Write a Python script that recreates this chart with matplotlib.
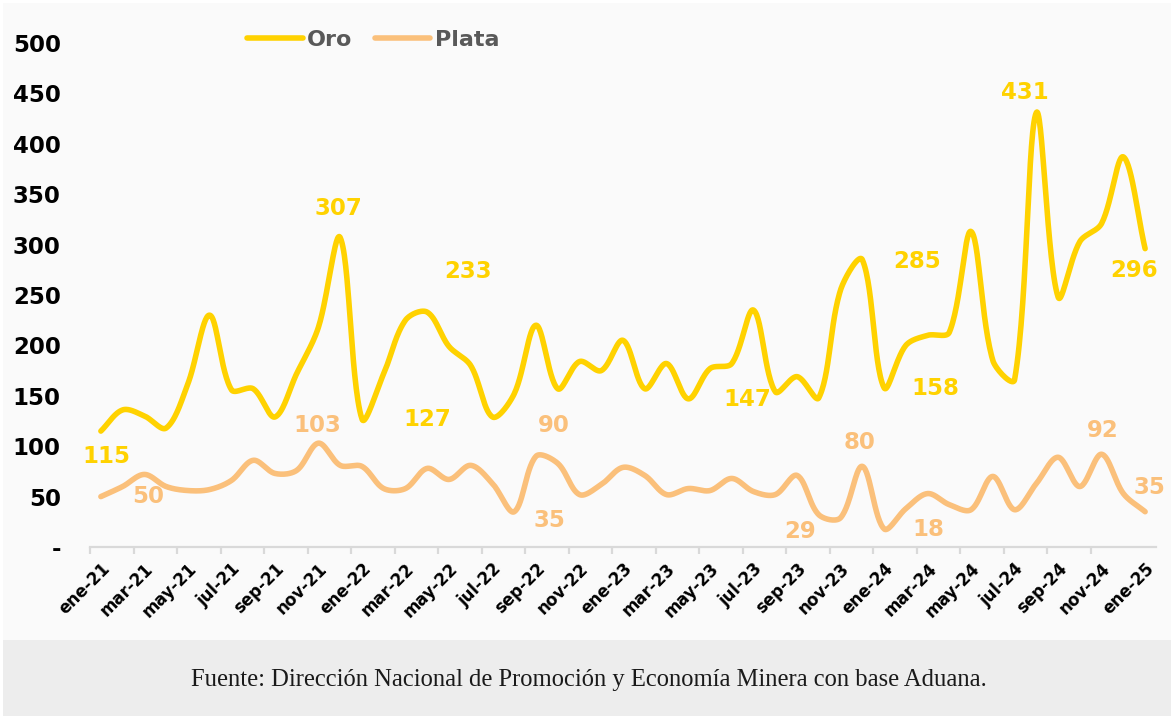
import numpy as np
import matplotlib
matplotlib.use("Agg")
import matplotlib.pyplot as plt
from matplotlib.patches import Rectangle
from matplotlib.lines import Line2D
from matplotlib.ticker import FixedLocator, FuncFormatter

# ---------------- data ----------------
months = ["ene-21", "feb-21", "mar-21", "abr-21", "may-21", "jun-21", "jul-21", "ago-21",
          "sep-21", "oct-21", "nov-21", "dic-21",
          "ene-22", "feb-22", "mar-22", "abr-22", "may-22", "jun-22", "jul-22", "ago-22",
          "sep-22", "oct-22", "nov-22", "dic-22",
          "ene-23", "feb-23", "mar-23", "abr-23", "may-23", "jun-23", "jul-23", "ago-23",
          "sep-23", "oct-23", "nov-23", "dic-23",
          "ene-24", "feb-24", "mar-24", "abr-24", "may-24", "jun-24", "jul-24", "ago-24",
          "sep-24", "oct-24", "nov-24", "dic-24",
          "ene-25"]

oro = [115, 136, 130, 118, 162, 230, 156, 157, 129, 172, 218, 307,
       127, 172, 225, 233, 199, 180, 129, 152, 220, 157, 184, 175,
       205, 157, 182, 147, 177, 182, 235, 154, 169, 148, 255, 285,
       158, 200, 210, 213, 313, 185, 166, 431, 248, 303, 321, 387,
       296]

plata = [50, 60, 72, 60, 56, 57, 66, 86, 73, 76, 103, 81,
         80, 58, 58, 78, 67, 81, 63, 35, 90, 83, 52, 62,
         79, 71, 52, 58, 56, 68, 55, 52, 71, 32, 29, 80,
         18, 38, 53, 42, 37, 70, 37, 63, 89, 60, 92, 53,
         35]

# which points carry a value label
oro_label_idx = [0, 11, 12, 15, 27, 35, 36, 43, 48]
plata_label_idx = [0, 10, 20, 19, 34, 35, 36, 46, 48]

# label placement (pixel offsets from the labelled point)
oro_label_off = [(5, -25), (-2, 29), (65, -1), (41, 41), (59, -1),
                 (55, -2), (51, -1), (-11, 20), (-11, -22)]
plata_label_off = [(47, 0), (-1, 18), (18, 31), (35, -9), (-40, -14),
                   (-3, 24), (44, -1), (1, 24), (4, 24)]

series_names = ["Oro", "Plata"]
yticks = [0, 50, 100, 150, 200, 250, 300, 350, 400, 450, 500]

C_ORO = "#FFD200"
C_PLATA = "#FAC07B"
FOOT = "Fuente: Dirección Nacional de Promoción y Economía Minera con base Aduana."


def excel_smooth(ax, vals, n=30):
    """Excel-like smoothed Bezier curve through the points (computed in screen space)."""
    y = np.asarray(vals, float)
    x = np.arange(len(y), dtype=float)
    P = ax.transData.transform(np.column_stack([x, y]))
    Pe = np.vstack([P[0], P, P[-1]])
    t = np.linspace(0, 1, n, endpoint=False)[:, None]
    out = []
    for i in range(len(P) - 1):
        p0, p1, p2, p3 = Pe[i], Pe[i + 1], Pe[i + 2], Pe[i + 3]
        d01 = np.hypot(*(p1 - p0))
        d12 = np.hypot(*(p2 - p1))
        d23 = np.hypot(*(p3 - p2))
        f1 = d12 / (3.0 * (d01 + d12)) if (d01 + d12) > 0 else 0.0
        f2 = d12 / (3.0 * (d12 + d23)) if (d12 + d23) > 0 else 0.0
        b1 = p1 + (p2 - p0) * f1
        b2 = p2 - (p3 - p1) * f2
        seg = ((1 - t) ** 3) * p1 + 3 * ((1 - t) ** 2) * t * b1 + 3 * (1 - t) * t ** 2 * b2 + t ** 3 * p2
        out.append(seg)
    out.append(P[-1][None, :])
    out = np.vstack(out)
    d = ax.transData.inverted().transform(out)
    return d[:, 0], d[:, 1]


W, H = 1171, 716
fig = plt.figure(figsize=(W / 100, H / 100), dpi=100)
fig.patch.set_facecolor("white")

# backgrounds
fig.patches.append(Rectangle((3 / W, 76 / H), (W - 3) / W, (H - 76 - 3) / H,
                             transform=fig.transFigure, facecolor="#FAFAFA",
                             edgecolor="none", zorder=-10))
fig.patches.append(Rectangle((3 / W, 0), (W - 3) / W, 76 / H,
                             transform=fig.transFigure, facecolor="#EDEDED",
                             edgecolor="none", zorder=-10))

ax = fig.add_axes([90 / W, 1 - 547 / H, (1156 - 90) / W, (547 - 43) / H])
ax.set_facecolor("none")
ax.set_xlim(-0.5, len(months) - 0.5)
ax.set_ylim(0, 500)

xs, ys = excel_smooth(ax, oro)
ax.plot(xs, ys, color=C_ORO, lw=4.0, solid_capstyle="round", clip_on=False, zorder=3)
xs, ys = excel_smooth(ax, plata)
ax.plot(xs, ys, color=C_PLATA, lw=4.0, solid_capstyle="round", clip_on=False, zorder=2)

for s in ["top", "right", "left"]:
    ax.spines[s].set_visible(False)
ax.spines["bottom"].set_color("#D9D9D9")
ax.spines["bottom"].set_linewidth(1.6)

# y axis
ax.yaxis.set_major_locator(FixedLocator(yticks))
ax.yaxis.set_major_formatter(FuncFormatter(lambda v, p: "-" if v == 0 else f"{int(v)}"))
ax.tick_params(axis="y", length=0, pad=21, labelsize=16.5)
for lab in ax.get_yticklabels():
    lab.set_fontweight("bold")
    lab.set_color("black")

# x axis
pos = list(range(0, len(months), 2))
ax.set_xticks(pos)
ax.set_xticklabels([months[i] for i in pos], rotation=45, ha="right", va="top",
                   rotation_mode="anchor", fontsize=12, fontweight="bold")
ax.set_xticks([p - 0.5 for p in range(0, len(months) - 1, 2)], minor=True)
ax.tick_params(axis="x", which="major", length=0, pad=9)
ax.tick_params(axis="x", which="minor", length=5, width=1.6, color="#D9D9D9")

# value labels
for i, (dx, dy) in zip(oro_label_idx, oro_label_off):
    ax.annotate(f"{oro[i]}", xy=(i, oro[i]), xytext=(dx, dy), textcoords="offset pixels",
                ha="center", va="center", fontsize=16.5, fontweight="bold",
                color=C_ORO, annotation_clip=False, zorder=5)
for i, (dx, dy) in zip(plata_label_idx, plata_label_off):
    ax.annotate(f"{plata[i]}", xy=(i, plata[i]), xytext=(dx, dy), textcoords="offset pixels",
                ha="center", va="center", fontsize=16.5, fontweight="bold",
                color=C_PLATA, annotation_clip=False, zorder=5)

# legend
handles = [Line2D([], [], color=C_ORO, lw=4.0, solid_capstyle="round"),
           Line2D([], [], color=C_PLATA, lw=4.0, solid_capstyle="round")]
leg = fig.legend(handles, series_names, loc="center", bbox_to_anchor=(373 / W, 1 - 40 / H),
                 ncol=2, frameon=False, handlelength=2.5, handletextpad=0.2,
                 columnspacing=1.0, prop={"size": 16, "weight": "bold"})
for t in leg.get_texts():
    t.set_color("#595959")

# footer
fig.text(589 / W, 1 - 680 / H, FOOT, ha="center", va="center",
         family="Liberation Serif", fontsize=17.7, color="#1a1a1a")

fig.savefig("out.png", dpi=100, facecolor=fig.get_facecolor())
